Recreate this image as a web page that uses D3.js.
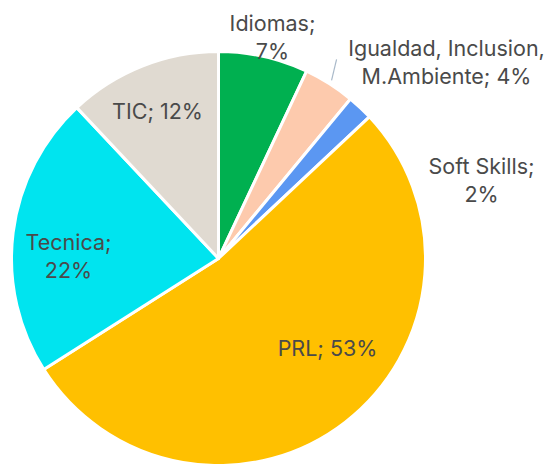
<!DOCTYPE html>
<html>
<head>
<meta charset="utf-8">
<script src="https://cdn.jsdelivr.net/npm/d3@7"></script>
<style>
  body { margin: 0; background: #fff; }
  text { font-family: Inter, "Noto Sans", sans-serif; }
</style>
</head>
<body>
<div id="chart"></div>
<script>
  // data
  const categories = ["Idiomas", "Igualdad, Inclusion, M.Ambiente", "Soft Skills", "PRL", "Tecnica", "TIC"]
  const values = [7, 4, 2, 53, 22, 12]
  const colors = ["#00b050", "#fdcaad", "#5b97f2", "#ffc000", "#00e4ef", "#e0dad1"]
  // label text broken in lines, like the original
  const labelLines = [
    ["Idiomas;", "7%"],
    ["Igualdad, Inclusion,", "M.Ambiente; 4%"],
    ["Soft Skills;", "2%"],
    ["PRL; 53%"],
    ["Tecnica;", "22%"],
    ["TIC; 12%"]
  ]

  const width = 556, height = 464
  const cx = 218.5, cy = 258.5, radius = 207

  // label centres relative to the pie centre (manually placed, like in the source)
  const labelAt = [[54, -221], [228, -196], [263, -78], [109, 90], [-150, -2], [-61, -147]]

  const svg = d3.select("#chart")
    .append("svg")
      .attr("width", width)
      .attr("height", height)

  const g = svg.append("g")
      .attr("transform", `translate(${cx}, ${cy})`)

  const pie = d3.pie().sort(null).value(d => d)
  const arcs = pie(values)
  const arc = d3.arc().innerRadius(0).outerRadius(radius)

  g.selectAll("path.slice")
    .data(arcs)
    .join("path")
      .attr("class", "slice")
      .attr("d", arc)
      .attr("fill", (d, i) => colors[i])
      .attr("stroke", "#fff")
      .attr("stroke-width", 3)
      .attr("stroke-linejoin", "round")

  // leader line for the small slice label
  const a = (arcs[1].startAngle + arcs[1].endAngle) / 2
  g.append("line")
      .attr("x1", Math.sin(a) * (radius + 4))
      .attr("y1", -Math.cos(a) * (radius + 4))
      .attr("x2", Math.sin(a) * (radius + 4) + 5)
      .attr("y2", -Math.cos(a) * (radius + 4) - 21)
      .attr("stroke", "#a9b9c9")
      .attr("stroke-width", 1.2)

  const lineH = 28
  const labels = g.selectAll("text.lbl")
    .data(arcs)
    .join("text")
      .attr("class", "lbl")
      .attr("text-anchor", "middle")
      .attr("font-size", 21.5)
      .attr("fill", "#4a4a4a")
      .attr("transform", (d, i) => `translate(${labelAt[i][0]}, ${labelAt[i][1]})`)

  labels.each(function(d, i) {
    const lines = labelLines[i]
    const t = d3.select(this)
    lines.forEach((s, j) => {
      t.append("tspan")
        .attr("x", 0)
        .attr("y", (j - (lines.length - 1) / 2) * lineH)
        .attr("dy", "0.36em")
        .text(s)
    })
  })
</script>
</body>
</html>
